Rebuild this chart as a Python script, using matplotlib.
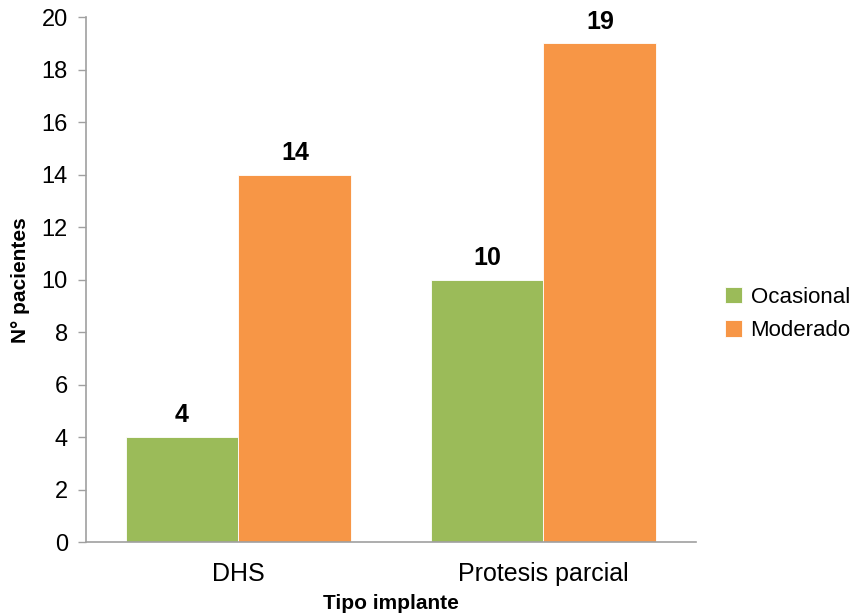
import matplotlib
matplotlib.use("Agg")
import matplotlib.pyplot as plt
import numpy as np

categorias = ["DHS", "Protesis parcial"]
ocasional = [4, 10]
moderado = [14, 19]
series = ["Ocasional", "Moderado"]
colores = ["#9BBB59", "#F79646"]

plt.rcParams["font.family"] = ["Liberation Sans", "DejaVu Sans"]

fig = plt.figure(figsize=(8.57, 6.16), dpi=100)
ax = fig.add_axes([0.1003, 0.120, 0.7117, 0.852])

x = np.arange(len(categorias))
ancho = 0.37
barras1 = ax.bar(x - ancho / 2, ocasional, ancho, color=colores[0],
                 edgecolor="white", linewidth=0.6, label=series[0])
barras2 = ax.bar(x + ancho / 2, moderado, ancho, color=colores[1],
                 edgecolor="white", linewidth=0.6, label=series[1])

for barras in (barras1, barras2):
    ax.bar_label(barras, padding=7, fontsize=18, fontweight="bold")

ax.set_xlim(-0.5, 1.5)
ax.set_ylim(0, 20)
ax.set_yticks(range(0, 21, 2))
ax.set_xticks(x)
ax.set_xticklabels(categorias)
ax.tick_params(axis="x", length=0, labelsize=18, pad=14)
ax.tick_params(axis="y", length=6, width=1, color="#a0a0a0", labelsize=17, pad=7)

for lado in ["top", "right"]:
    ax.spines[lado].set_visible(False)
for lado in ["left", "bottom"]:
    ax.spines[lado].set_color("#a0a0a0")
    ax.spines[lado].set_linewidth(1.2)

ax.set_xlabel("Tipo implante", fontsize=15, fontweight="bold", labelpad=6)
ax.set_ylabel("N° pacientes", fontsize=15, fontweight="bold", labelpad=8)

fig.legend(loc="center left", bbox_to_anchor=(0.846, 0.49), frameon=False,
           borderaxespad=0, borderpad=0,
           fontsize=16, handlelength=0.75, handleheight=0.75, handletextpad=0.4,
           labelspacing=0.55)

fig.savefig("out.png", dpi=100)
